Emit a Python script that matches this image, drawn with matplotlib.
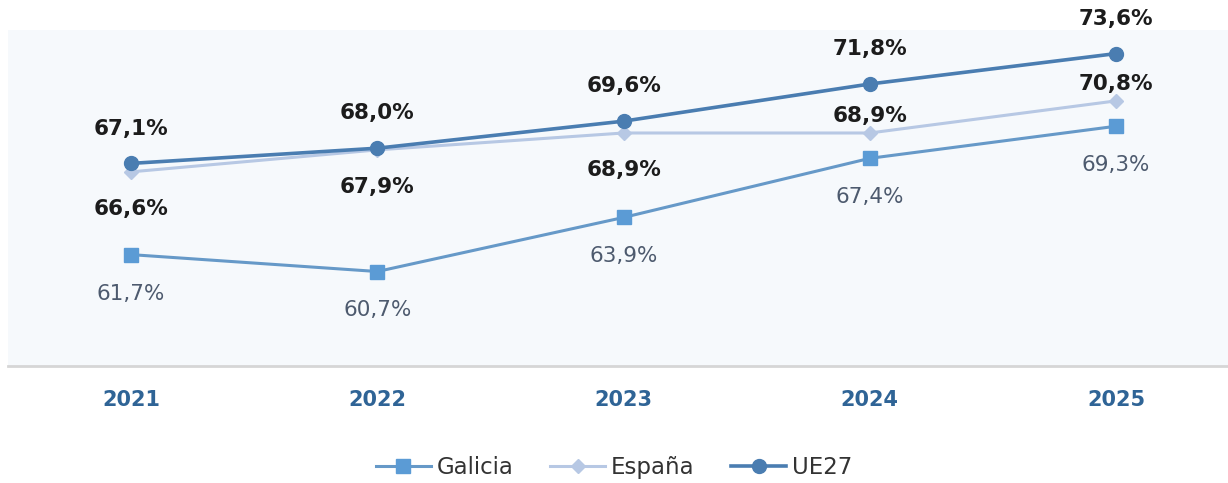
import matplotlib.pyplot as plt

years = ['2021', '2022', '2023', '2024', '2025']
galicia = [61.7, 60.7, 63.9, 67.4, 69.3]
espana = [66.6, 67.9, 68.9, 68.9, 70.8]
ue27 = [67.1, 68.0, 69.6, 71.8, 73.6]

# where each series puts its value labels: 1 above the point, -1 below
espana_side = [-1, -1, -1, 1, 1]

c_gal = '#5b9bd5'
c_esp = '#b7c8e4'
c_ue = '#4a7db1'


def fmt(v):
    return ('%.1f%%' % v).replace('.', ',')


fig = plt.figure(figsize=(12.28, 4.83), dpi=100)
ax = fig.add_axes([8 / 1228, 0.242, 1 - 8 / 1228, 0.696])
ax.set_facecolor('#f6f9fc')

x = list(range(len(years)))
ax.plot(x, galicia, color='#6699c8', lw=2.2, marker='s', ms=10,
        mfc=c_gal, mec=c_gal, label='Galicia', zorder=3)
ax.plot(x, espana, color=c_esp, lw=2.2, marker='D', ms=7,
        mfc=c_esp, mec=c_esp, label='España', zorder=2)
ax.plot(x, ue27, color=c_ue, lw=2.6, marker='o', ms=10,
        mfc=c_ue, mec=c_ue, label='UE27', zorder=4)

for i, v in enumerate(ue27):
    ax.annotate(fmt(v), (i, v), xytext=(0, 25), textcoords='offset points',
                ha='center', va='center', fontsize=15.5, fontweight='bold',
                color='#1c1c1c')
for i, v in enumerate(espana):
    dy = 12 if espana_side[i] > 0 else -27
    ax.annotate(fmt(v), (i, v), xytext=(0, dy), textcoords='offset points',
                ha='center', va='center', fontsize=15.5, fontweight='bold',
                color='#1c1c1c')
for i, v in enumerate(galicia):
    ax.annotate(fmt(v), (i, v), xytext=(0, -28), textcoords='offset points',
                ha='center', va='center', fontsize=15.5, color='#4d5a6e')

ax.set_xlim(-0.5, 4.455)
ax.set_ylim(55.1, 75.0)
ax.set_xticks(x)
ax.set_xticklabels(years, fontsize=15, fontweight='bold', color='#2f6496')
ax.set_yticks([])
ax.tick_params(axis='x', length=0, pad=17)
for side in ['top', 'left', 'right']:
    ax.spines[side].set_visible(False)
ax.spines['bottom'].set_color('#d6d6d6')
ax.spines['bottom'].set_linewidth(2)

fig.legend(loc='center', bbox_to_anchor=(0.5, 0.033), ncol=3, frameon=False,
           fontsize=16.5, handlelength=2.4, columnspacing=1.6, handletextpad=0.25,
           labelcolor='#333333')

fig.savefig('out.png', dpi=100, facecolor='white')
